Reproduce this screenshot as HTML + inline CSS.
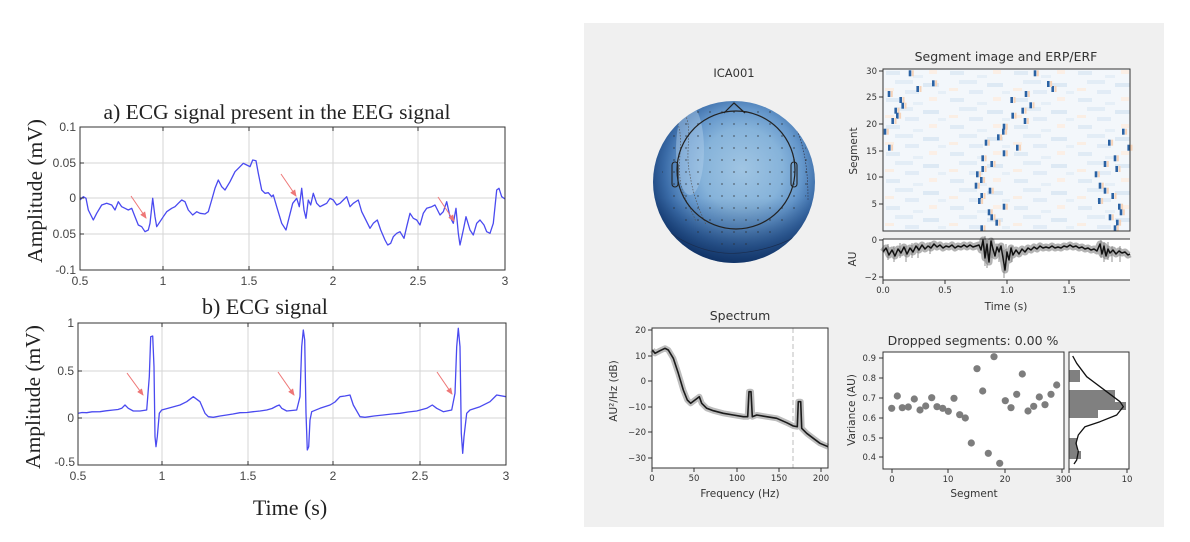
<!DOCTYPE html>
<html><head><meta charset="utf-8"><style>
html,body{margin:0;padding:0;background:#fff;}
svg{display:block;}
.ser{font-family:"Liberation Serif",serif;fill:#222;}
.tl{font-family:"Liberation Sans",sans-serif;font-size:12px;fill:#444;}
.dj{font-family:"DejaVu Sans","Liberation Sans",sans-serif;fill:#333;}
.tk{font-size:8.5px;}
.lb{font-size:10.5px;}
.tt{font-size:12.5px;}
</style></head><body>
<svg width="1190" height="542" viewBox="0 0 1190 542" xmlns="http://www.w3.org/2000/svg">
<defs>
<marker id="ar" markerWidth="8" markerHeight="8" refX="6" refY="3" orient="auto" markerUnits="userSpaceOnUse">
<path d="M0,0 L7,3 L0,6 z" fill="#ee7777"/>
</marker>
<radialGradient id="tg" cx="0.55" cy="0.42" r="0.6">
<stop offset="0" stop-color="#a0c5e3"/>
<stop offset="0.42" stop-color="#86b3da"/>
<stop offset="0.62" stop-color="#6597cb"/>
<stop offset="0.8" stop-color="#3a6ba7"/>
<stop offset="1" stop-color="#163d75"/>
</radialGradient>
<linearGradient id="tb" x1="0" y1="0" x2="0" y2="1">
<stop offset="0.6" stop-color="#0b2a5a" stop-opacity="0"/>
<stop offset="1" stop-color="#0b2a5a" stop-opacity="0.6"/>
</linearGradient>
<clipPath id="disk"><circle cx="734" cy="182" r="81"/></clipPath>
<clipPath id="inner"><circle cx="736" cy="172" r="74"/></clipPath>
<pattern id="dots" x="680" y="118" width="12" height="12" patternUnits="userSpaceOnUse">
<circle cx="6" cy="6" r="0.9" fill="#2a2a2a" opacity="0.6"/>
</pattern>
<pattern id="noise" x="883" y="69" width="64" height="27" patternUnits="userSpaceOnUse">
<rect width="64" height="27" fill="#f3f7fb"/>
<rect x="3" y="2" width="14" height="4" fill="#e0ebf5"/>
<rect x="30" y="6" width="10" height="3" fill="#e6eff7"/>
<rect x="46" y="1" width="8" height="4" fill="#fbefe6"/>
<rect x="12" y="11" width="18" height="4" fill="#e3edf6"/>
<rect x="40" y="14" width="16" height="4" fill="#dde9f4"/>
<rect x="2" y="19" width="9" height="3" fill="#faeee4"/>
<rect x="22" y="21" width="14" height="4" fill="#e2ecf6"/>
<rect x="55" y="22" width="8" height="3" fill="#e6eff7"/>
</pattern>
<g id="mk"><rect x="-1.3" y="-3" width="2.6" height="6" fill="#2b62a3"/><rect x="1.8" y="-3" width="2" height="6" fill="#f6d3b8"/></g>
</defs>

<!-- ================= LEFT: chart a ================= -->
<text class="ser" x="277" y="119" font-size="21.5" text-anchor="middle">a)  ECG signal present in the EEG signal</text>
<g stroke="#d6d6d6" stroke-width="1">
<line x1="163" y1="127" x2="163" y2="270"/><line x1="249" y1="127" x2="249" y2="270"/>
<line x1="333" y1="127" x2="333" y2="270"/><line x1="418" y1="127" x2="418" y2="270"/>
<line x1="80" y1="163" x2="505" y2="163"/><line x1="80" y1="198" x2="505" y2="198"/><line x1="80" y1="234" x2="505" y2="234"/>
</g>
<polyline fill="none" stroke="#4a4af0" stroke-width="1.3" stroke-linejoin="round" points="80,200 83.3,196.7 86,198.3 88.3,210 93.3,220 96.7,213.3 101.7,205 106.7,203.3 111.7,205 115,210 118.3,201.7 121.7,206.7 125,208.3 128.3,210 131.7,208.3 135,216.7 138.3,225 141.7,226.7 145,231.7 148.3,230 150,223.3 152.7,198.3 155,216.7 156.7,226.7 160,221.7 163.3,216.7 166.7,211.7 171.7,208.3 175,206.7 178.3,203.3 181.7,200 185,201.7 188.3,210 192.7,215 196.7,211.7 200,213.3 205,214 208.3,211.7 211.7,200 215,188.3 218.3,180 221.7,186.7 225,190 230,181.7 235,171.7 240,166.7 243.3,163.3 246.7,165 250,166.7 252.7,160 256,160.7 258.3,173.3 261.7,190 265,193.3 268.3,192.7 271.7,196.7 273.3,195 276.7,206.7 281.7,223.3 286,230 289.3,216.7 292.7,203.3 296.7,198.3 299.3,206.7 301.7,188.3 304,210 306,218.3 308.3,200 310.7,205 313.3,193.3 316.7,203.3 320,206.7 323.3,205 326.7,203.3 330,198.3 333.3,200 336.7,205 340,203.3 343.3,200 346.7,196.7 350,206.7 353.3,203.3 358.3,200 361.7,211.7 366.7,221.7 370,228.3 373.3,223.3 377.3,220 380.7,230 385,240 387.7,245 390.7,243.3 393.3,236.7 396.7,233.3 400,231.7 404,238.3 406.7,226.7 410,213.3 413.3,218.3 416.7,220 420,225 423.3,213.3 426.7,208.3 431.7,206.7 435,205 440,215 443.3,211.7 446.7,201.7 450,216.7 453.3,223.3 456,208.3 458.3,233.3 460,245 463.3,230 466,216.7 470,230 473.3,235 476.7,223.3 480,220 484,225 486.7,231.7 490,233.3 493.3,223.3 496.7,190 499,188.3 501.7,196.7 505,199"/>
<g stroke="#ee7777" stroke-width="1" marker-end="url(#ar)">
<line x1="131" y1="196" x2="146" y2="218"/><line x1="281" y1="174" x2="296" y2="196"/><line x1="438" y1="197" x2="454" y2="221"/>
</g>
<rect x="80" y="127" width="425" height="143" fill="none" stroke="#333" stroke-width="1"/>
<g stroke="#333" stroke-width="1">
<line x1="163" y1="127" x2="163" y2="131"/><line x1="249" y1="127" x2="249" y2="131"/><line x1="333" y1="127" x2="333" y2="131"/><line x1="418" y1="127" x2="418" y2="131"/>
<line x1="163" y1="270" x2="163" y2="266"/><line x1="249" y1="270" x2="249" y2="266"/><line x1="333" y1="270" x2="333" y2="266"/><line x1="418" y1="270" x2="418" y2="266"/>
<line x1="80" y1="163" x2="84" y2="163"/><line x1="80" y1="198" x2="84" y2="198"/><line x1="80" y1="234" x2="84" y2="234"/>
</g>
<g class="tl" text-anchor="end">
<text x="76" y="131">0.1</text><text x="76" y="167">0.05</text><text x="76" y="202">0</text><text x="76" y="238">0.05</text><text x="76" y="274">-0.1</text>
</g>
<g class="tl" text-anchor="middle">
<text x="80" y="285">0.5</text><text x="163" y="285">1</text><text x="249" y="285">1.5</text><text x="333" y="285">2</text><text x="418" y="285">2.5</text><text x="505" y="285">3</text>
</g>
<text class="ser" font-size="21.5" text-anchor="middle" transform="translate(42,191) rotate(-90)">Amplitude (mV)</text>

<!-- ================= LEFT: chart b ================= -->
<text class="ser" x="265" y="314" font-size="22" text-anchor="middle">b) ECG signal</text>
<g stroke="#d6d6d6" stroke-width="1">
<line x1="162" y1="323" x2="162" y2="465"/><line x1="248" y1="323" x2="248" y2="465"/>
<line x1="333" y1="323" x2="333" y2="465"/><line x1="420" y1="323" x2="420" y2="465"/>
<line x1="78" y1="371" x2="506" y2="371"/><line x1="78" y1="418" x2="506" y2="418"/>
</g>
<polyline fill="none" stroke="#4a4af0" stroke-width="1.3" stroke-linejoin="round" points="78.3,413.3 82,412.5 86.7,412.7 92,411.8 100,411.7 106,410.8 113.3,410 118,409.5 121.7,408.3 125,405 128.3,408.3 133.3,411 140,411 146.7,410 149.3,376.7 150.7,336.7 152.7,336 154,366.7 155,436.7 156,446.7 157.3,436.7 159.3,413.3 161.7,410 170,407.7 180,405 186.7,401.7 193.3,396.7 200,401.7 205,413.3 208.3,416.7 213.3,417.3 220,416 226.7,415 233,414 240,412.7 247,412.5 253.3,411.7 260,411 266.7,410 272,408.5 276.7,406 279.3,405 281.7,408.3 286.7,411 296.7,410 300,396.7 301.7,346.7 303.3,330 304.7,340 306,413.3 307.3,450 308.7,446.7 310,420 311.7,411.7 320,408.3 330,405 335,402 340,396.7 345,396 350,395 353.3,405 360,416.7 365,417.3 374,416 383.3,415 392,414 400,413.3 408,412 416.7,411 426.7,408.3 432.3,405 436.7,408.3 443.3,411.7 451.7,410 455,393.3 456.7,346.7 458.3,328.3 460,346.7 461.3,433.3 462.7,453.3 464,436.7 466.7,413.3 470,410 480,406.7 490,401.7 496.7,395 506,396.7"/>
<g stroke="#ee7777" stroke-width="1" marker-end="url(#ar)">
<line x1="127" y1="373" x2="143" y2="395"/><line x1="278" y1="372" x2="294" y2="395"/><line x1="437" y1="372" x2="452" y2="394"/>
</g>
<rect x="78" y="323" width="428" height="142" fill="none" stroke="#333" stroke-width="1"/>
<g stroke="#333" stroke-width="1">
<line x1="162" y1="323" x2="162" y2="327"/><line x1="248" y1="323" x2="248" y2="327"/><line x1="333" y1="323" x2="333" y2="327"/><line x1="420" y1="323" x2="420" y2="327"/>
<line x1="162" y1="465" x2="162" y2="461"/><line x1="248" y1="465" x2="248" y2="461"/><line x1="333" y1="465" x2="333" y2="461"/><line x1="420" y1="465" x2="420" y2="461"/>
<line x1="78" y1="371" x2="82" y2="371"/><line x1="78" y1="418" x2="82" y2="418"/>
</g>
<g class="tl" text-anchor="end">
<text x="74" y="327">1</text><text x="74" y="375">0.5</text><text x="74" y="422">0</text><text x="75" y="466">-0.5</text>
</g>
<g class="tl" text-anchor="middle">
<text x="78" y="480">0.5</text><text x="162" y="480">1</text><text x="248" y="480">1.5</text><text x="333" y="480">2</text><text x="420" y="480">2.5</text><text x="506" y="480">3</text>
</g>
<text class="ser" font-size="21.5" text-anchor="middle" transform="translate(40,397) rotate(-90)">Amplitude (mV)</text>
<text class="ser" x="290" y="515" font-size="22" text-anchor="middle">Time (s)</text>

<!-- ================= RIGHT PANEL ================= -->
<rect x="584" y="23" width="580" height="504" fill="#f0f0f0"/>

<!-- Topomap -->
<text class="dj" x="734" y="77" font-size="11.5" text-anchor="middle">ICA001</text>
<circle cx="734" cy="182" r="81" fill="url(#tg)"/>
<circle cx="734" cy="182" r="81" fill="url(#tb)"/>
<g clip-path="url(#disk)">
<ellipse cx="690" cy="150" rx="14" ry="45" fill="#b4d1ea" opacity="0.45"/>
<path d="M684,112 C694,130 684,150 690,175 C694,200 700,210 706,225" fill="none" stroke="#555" stroke-width="0.7" stroke-dasharray="1.5,1.5"/>
<path d="M675,118 C686,135 676,160 681,185 C684,200 692,210 696,222" fill="none" stroke="#555" stroke-width="0.7" stroke-dasharray="1.5,1.5"/>
<path d="M795,125 C806,150 808,175 808,200" fill="none" stroke="#334" stroke-width="0.7" stroke-dasharray="1.5,1.5"/>
<path d="M660,225 C690,250 720,255 740,253 C770,250 795,240 812,225" fill="none" stroke="#1a2e50" stroke-width="0.7"/>
<rect x="650" y="100" width="170" height="170" fill="url(#dots)" clip-path="url(#inner)"/>
</g>
<circle cx="736" cy="170" r="59" fill="none" stroke="#222" stroke-width="1.2"/>
<polyline points="724,113 734,103 745,113" fill="none" stroke="#222" stroke-width="1.2"/>
<rect x="672" y="162" width="6" height="25" rx="3" fill="none" stroke="#222" stroke-width="1.1"/>
<rect x="791" y="162" width="6" height="25" rx="3" fill="none" stroke="#222" stroke-width="1.1"/>

<!-- Segment image -->
<text class="dj tt" x="1006" y="61" text-anchor="middle">Segment image and ERP/ERF</text>
<rect x="883" y="69" width="247" height="162" fill="url(#noise)"/>
<g>
<use href="#mk" x="910" y="73.3"/><use href="#mk" x="917.7" y="89"/><use href="#mk" x="933.3" y="83.3"/><use href="#mk" x="889" y="94"/>
<use href="#mk" x="900.7" y="100"/><use href="#mk" x="902.7" y="105.7"/><use href="#mk" x="895.7" y="110.7"/><use href="#mk" x="897.3" y="115.7"/>
<use href="#mk" x="892.7" y="121"/><use href="#mk" x="885" y="131.7"/><use href="#mk" x="889.3" y="147.7"/><use href="#mk" x="1035" y="73.3"/>
<use href="#mk" x="1052.7" y="89"/><use href="#mk" x="1048.3" y="84"/><use href="#mk" x="1026" y="94"/><use href="#mk" x="1011.7" y="100"/>
<use href="#mk" x="1030.7" y="105.3"/><use href="#mk" x="1022.7" y="110.7"/><use href="#mk" x="1012.7" y="115.7"/><use href="#mk" x="1025" y="121"/>
<use href="#mk" x="1004" y="126.7"/><use href="#mk" x="1003.3" y="131.7"/><use href="#mk" x="998.3" y="137.3"/><use href="#mk" x="986" y="142.7"/>
<use href="#mk" x="1017.3" y="147.7"/><use href="#mk" x="1004" y="153.3"/><use href="#mk" x="982.7" y="158.3"/><use href="#mk" x="991.7" y="164"/>
<use href="#mk" x="982.7" y="169"/><use href="#mk" x="977.3" y="174.3"/><use href="#mk" x="981.3" y="180"/><use href="#mk" x="976" y="185.7"/>
<use href="#mk" x="990" y="190.7"/><use href="#mk" x="981.7" y="196"/><use href="#mk" x="979.3" y="201"/><use href="#mk" x="1004" y="206.7"/>
<use href="#mk" x="989" y="212.3"/><use href="#mk" x="991.7" y="217.3"/><use href="#mk" x="996.7" y="222.7"/><use href="#mk" x="981.7" y="228.3"/>
<use href="#mk" x="1123.3" y="131.7"/><use href="#mk" x="1109.3" y="142.7"/><use href="#mk" x="1128.7" y="147.7"/><use href="#mk" x="1115" y="158.3"/>
<use href="#mk" x="1105" y="164"/><use href="#mk" x="1116.7" y="169"/><use href="#mk" x="1096" y="174.3"/><use href="#mk" x="1100" y="185.7"/>
<use href="#mk" x="1105" y="190.7"/><use href="#mk" x="1112.7" y="196"/><use href="#mk" x="1099.3" y="201"/><use href="#mk" x="1119.3" y="206.7"/>
<use href="#mk" x="1121" y="212.3"/><use href="#mk" x="1110" y="217.3"/><use href="#mk" x="1117.3" y="222.7"/><use href="#mk" x="1115" y="228.3"/>
</g>
<rect x="883" y="69" width="247" height="162" fill="none" stroke="#333" stroke-width="1"/>
<g stroke="#333" stroke-width="1">
<line x1="879" y1="71" x2="883" y2="71"/><line x1="879" y1="97" x2="883" y2="97"/><line x1="879" y1="124" x2="883" y2="124"/>
<line x1="879" y1="151" x2="883" y2="151"/><line x1="879" y1="177" x2="883" y2="177"/><line x1="879" y1="204" x2="883" y2="204"/>
</g>
<g class="dj tk" text-anchor="end">
<text x="877" y="74">30</text><text x="877" y="100">25</text><text x="877" y="127">20</text><text x="877" y="154">15</text><text x="877" y="180">10</text><text x="877" y="207">5</text>
</g>
<text class="dj lb" text-anchor="middle" transform="translate(857,151) rotate(-90)">Segment</text>

<!-- ERP -->
<rect x="883" y="239" width="247" height="41" fill="#fff"/>
<polyline fill="none" stroke="#9a9a9a" stroke-width="7" stroke-linejoin="round" opacity="0.75" points="883,252 886,248 889,255 892,250 895,256 898,249 901,253 904,247 907,254 910,248 913,252 916,246 919,250 922,245 925,249 928,246 931,248 934,244 937,247 940,245 943,248 946,246 949,247 952,245 955,248 958,246 961,247 964,245 967,247 970,245 973,247 976,246 979,245 981,250 983,240 985,258 987,244 989,262 991,241 993,249 995,256 997,247 999,252 1001,246 1003,258 1005,270 1007,252 1009,260 1011,248 1013,255 1016,250 1019,254 1022,249 1025,252 1028,248 1031,250 1034,247 1037,249 1040,246 1043,248 1046,247 1049,248 1052,246 1055,248 1058,247 1061,248 1064,246 1067,247 1070,245 1073,247 1076,246 1079,248 1082,247 1085,249 1088,248 1091,250 1094,249 1097,251 1100,244 1102,254 1104,246 1106,256 1108,249 1110,253 1113,250 1116,254 1119,251 1122,253 1125,252 1128,255 1130,254"/>
<path fill="none" stroke="#777" stroke-width="0.8" d="M888,244 L888,260 M894,246 L894,262 M900,243 L900,258 M906,246 L906,262 M912,243 L912,258 M918,244 L918,258 M930,242 L930,254 M985,236 L985,266 M987,240 L987,268 M992,238 L992,258 M999,244 L999,262 M1004,250 L1004,278 M1006,244 L1006,262 M1012,246 L1012,262 M1101,240 L1101,258 M1104,242 L1104,262 M1108,242 L1108,260 M1112,246 L1112,262 M1120,246 L1120,262"/>
<polyline fill="none" stroke="#111" stroke-width="1.5" stroke-linejoin="round" points="883,252 886,248 889,255 892,250 895,256 898,249 901,253 904,247 907,254 910,248 913,252 916,246 919,250 922,245 925,249 928,246 931,248 934,244 937,247 940,245 943,248 946,246 949,247 952,245 955,248 958,246 961,247 964,245 967,247 970,245 973,247 976,246 979,245 981,250 983,240 985,258 987,244 989,262 991,241 993,249 995,256 997,247 999,252 1001,246 1003,258 1005,270 1007,252 1009,260 1011,248 1013,255 1016,250 1019,254 1022,249 1025,252 1028,248 1031,250 1034,247 1037,249 1040,246 1043,248 1046,247 1049,248 1052,246 1055,248 1058,247 1061,248 1064,246 1067,247 1070,245 1073,247 1076,246 1079,248 1082,247 1085,249 1088,248 1091,250 1094,249 1097,251 1100,244 1102,254 1104,246 1106,256 1108,249 1110,253 1113,250 1116,254 1119,251 1122,253 1125,252 1128,255 1130,254"/>
<line x1="883" y1="239" x2="1130" y2="239" stroke="#333" stroke-width="1"/>
<line x1="883" y1="280" x2="1130" y2="280" stroke="#333" stroke-width="1"/>
<line x1="883" y1="239" x2="883" y2="280" stroke="#333" stroke-width="1"/>
<g stroke="#333" stroke-width="1">
<line x1="879" y1="240" x2="883" y2="240"/><line x1="879" y1="277" x2="883" y2="277"/>
<line x1="883" y1="280" x2="883" y2="284"/><line x1="945" y1="280" x2="945" y2="284"/><line x1="1007" y1="280" x2="1007" y2="284"/><line x1="1069" y1="280" x2="1069" y2="284"/>
</g>
<g class="dj tk" text-anchor="end"><text x="877" y="243">0</text><text x="877" y="280">−2</text></g>
<text class="dj lb" text-anchor="middle" transform="translate(856,259) rotate(-90)">AU</text>
<g class="dj tk" text-anchor="middle">
<text x="883" y="293">0.0</text><text x="945" y="293">0.5</text><text x="1007" y="293">1.0</text><text x="1069" y="293">1.5</text>
</g>
<text class="dj lb" x="1006" y="310" text-anchor="middle">Time (s)</text>

<!-- Spectrum -->
<text class="dj tt" x="740" y="320" text-anchor="middle">Spectrum</text>
<rect x="652" y="328" width="176" height="140" fill="#fff"/>
<line x1="793" y1="328" x2="793" y2="468" stroke="#c8c8c8" stroke-width="1.2" stroke-dasharray="5,3"/>
<polyline fill="none" stroke="#bdbdbd" stroke-width="6" stroke-linejoin="round" points="652.3,350 655,353.3 660,350.7 665,348.3 668.3,350 673.3,358.3 678.3,373.3 683.3,390 687.3,400 690.7,403.3 695,400 699.3,396.7 701.7,403.3 706.7,408.3 713.3,410.7 723.3,413.3 733.3,415 743.3,416.7 747.7,416.7 749,391.7 751,391.7 752.3,416.7 756.7,415 766.7,416.7 776.7,418.3 786.7,422.7 793.3,426 797.3,426.7 798.3,401.7 800.7,401.7 801.7,428.3 806.7,433.3 813.3,438.3 820,443.3 828,446.7"/>
<polyline fill="none" stroke="#1a1a1a" stroke-width="1.6" stroke-linejoin="round" points="652.3,350 655,353.3 660,350.7 665,348.3 668.3,350 673.3,358.3 678.3,373.3 683.3,390 687.3,400 690.7,403.3 695,400 699.3,396.7 701.7,403.3 706.7,408.3 713.3,410.7 723.3,413.3 733.3,415 743.3,416.7 747.7,416.7 749,391.7 751,391.7 752.3,416.7 756.7,415 766.7,416.7 776.7,418.3 786.7,422.7 793.3,426 797.3,426.7 798.3,401.7 800.7,401.7 801.7,428.3 806.7,433.3 813.3,438.3 820,443.3 828,446.7"/>
<rect x="652" y="328" width="176" height="140" fill="none" stroke="#333" stroke-width="1"/>
<g stroke="#333" stroke-width="1">
<line x1="648" y1="330" x2="652" y2="330"/><line x1="648" y1="356" x2="652" y2="356"/><line x1="648" y1="381" x2="652" y2="381"/>
<line x1="648" y1="407" x2="652" y2="407"/><line x1="648" y1="432" x2="652" y2="432"/><line x1="648" y1="458" x2="652" y2="458"/>
<line x1="652" y1="468" x2="652" y2="472"/><line x1="694" y1="468" x2="694" y2="472"/><line x1="737" y1="468" x2="737" y2="472"/><line x1="779" y1="468" x2="779" y2="472"/><line x1="821" y1="468" x2="821" y2="472"/>
</g>
<g class="dj tk" text-anchor="end">
<text x="646" y="333">20</text><text x="646" y="359">10</text><text x="646" y="384">0</text><text x="646" y="410">−10</text><text x="646" y="435">−20</text><text x="646" y="461">−30</text>
</g>
<g class="dj tk" text-anchor="middle">
<text x="652" y="481">0</text><text x="694" y="481">50</text><text x="737" y="481">100</text><text x="779" y="481">150</text><text x="821" y="481">200</text>
</g>
<text class="dj lb" text-anchor="middle" transform="translate(617,391) rotate(-90)">AU²/Hz (dB)</text>
<text class="dj lb" x="740" y="497" text-anchor="middle">Frequency (Hz)</text>

<!-- Dropped segments -->
<text class="dj tt" x="973" y="345" text-anchor="middle">Dropped segments: 0.00 %</text>
<rect x="883" y="352" width="181" height="117" fill="#fff"/>
<g fill="#7d7d7d">
<circle cx="891.7" cy="408.3" r="3.6"/><circle cx="897.3" cy="396" r="3.6"/><circle cx="902.3" cy="407.7" r="3.6"/><circle cx="908.3" cy="407" r="3.6"/>
<circle cx="914.3" cy="399" r="3.6"/><circle cx="920" cy="410" r="3.6"/><circle cx="925.7" cy="406" r="3.6"/><circle cx="931.7" cy="397.7" r="3.6"/>
<circle cx="937" cy="406.7" r="3.6"/><circle cx="942.7" cy="408.3" r="3.6"/><circle cx="948.3" cy="411.3" r="3.6"/><circle cx="954" cy="398.3" r="3.6"/>
<circle cx="959.7" cy="414.7" r="3.6"/><circle cx="965.3" cy="418" r="3.6"/><circle cx="971.3" cy="443" r="3.6"/><circle cx="977" cy="368.7" r="3.6"/>
<circle cx="982.7" cy="391" r="3.6"/><circle cx="988.3" cy="453.3" r="3.6"/><circle cx="994" cy="356.7" r="3.6"/><circle cx="999.7" cy="463.3" r="3.6"/>
<circle cx="1005.3" cy="400.7" r="3.6"/><circle cx="1011" cy="407.7" r="3.6"/><circle cx="1016.7" cy="394.3" r="3.6"/><circle cx="1022.3" cy="374" r="3.6"/>
<circle cx="1028" cy="411" r="3.6"/><circle cx="1033.7" cy="406.3" r="3.6"/><circle cx="1039.3" cy="397" r="3.6"/><circle cx="1045" cy="404.7" r="3.6"/>
<circle cx="1051" cy="394.3" r="3.6"/><circle cx="1056.7" cy="385" r="3.6"/>
</g>
<rect x="883" y="352" width="181" height="117" fill="none" stroke="#333" stroke-width="1"/>
<g stroke="#333" stroke-width="1">
<line x1="879" y1="358" x2="883" y2="358"/><line x1="879" y1="378" x2="883" y2="378"/><line x1="879" y1="398" x2="883" y2="398"/>
<line x1="879" y1="418" x2="883" y2="418"/><line x1="879" y1="438" x2="883" y2="438"/><line x1="879" y1="457" x2="883" y2="457"/>
<line x1="892" y1="469" x2="892" y2="473"/><line x1="948" y1="469" x2="948" y2="473"/><line x1="1005" y1="469" x2="1005" y2="473"/><line x1="1062" y1="469" x2="1062" y2="473"/>
</g>
<g class="dj tk" text-anchor="end">
<text x="876" y="361">0.9</text><text x="876" y="381">0.8</text><text x="876" y="401">0.7</text><text x="876" y="421">0.6</text><text x="876" y="441">0.5</text><text x="876" y="460">0.4</text>
</g>
<g class="dj tk" text-anchor="middle">
<text x="892" y="482">0</text><text x="948" y="482">10</text><text x="1005" y="482">20</text><text x="1061" y="482">30</text>
</g>
<text class="dj lb" text-anchor="middle" transform="translate(855,410) rotate(-90)">Variance (AU)</text>
<text class="dj lb" x="974" y="497" text-anchor="middle">Segment</text>

<!-- Histogram -->
<rect x="1069" y="352" width="60" height="117" fill="#fff"/>
<g fill="#808080">
<rect x="1069" y="370" width="11" height="12"/>
<rect x="1069" y="390" width="46" height="12"/>
<rect x="1069" y="402" width="57" height="8"/>
<rect x="1069" y="410" width="29" height="8"/>
<rect x="1069" y="438" width="8" height="13"/>
<rect x="1069" y="451" width="12" height="8"/>
</g>
<polyline fill="none" stroke="#111" stroke-width="1.3" stroke-linejoin="round" points="1072.7,356 1076.7,363.3 1086.7,376.7 1106.7,391.7 1120,401.7 1123.3,406.7 1116.7,415 1100,421.7 1085,426.7 1078.3,435 1076,443.3 1078.3,451.7 1076.7,460 1074,464"/>
<rect x="1069" y="352" width="60" height="117" fill="none" stroke="#333" stroke-width="1"/>
<g stroke="#333" stroke-width="1"><line x1="1069" y1="469" x2="1069" y2="473"/><line x1="1127" y1="469" x2="1127" y2="473"/></g>
<g class="dj tk" text-anchor="middle"><text x="1069" y="482">0</text><text x="1127" y="482">10</text></g>
</svg>
</body></html>
